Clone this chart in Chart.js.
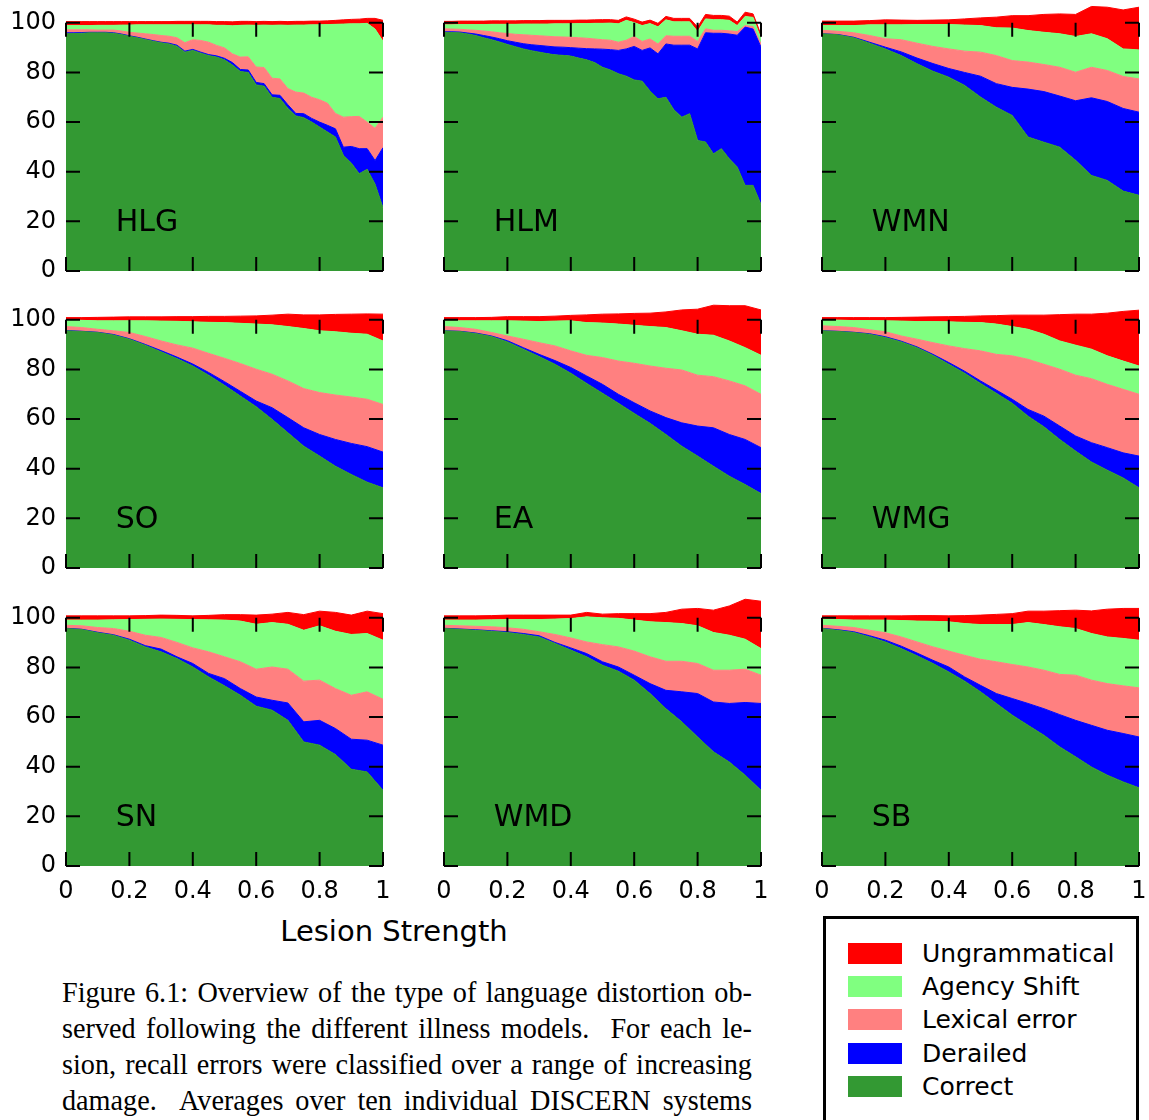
<!DOCTYPE html>
<html>
<head>
<meta charset="utf-8">
<script src="https://cdn.jsdelivr.net/npm/chart.js@4.4.1/dist/chart.umd.min.js"></script>
<style>
  body { margin: 0; background: #fff; }
  #page { position: relative; width: 1149px; height: 1120px; overflow: hidden; font-family: "DejaVu Sans", sans-serif; color: #000; }
  .panel { position: absolute; }
  #xlabel { position: absolute; left: 194px; top: 913px; width: 400px; text-align: center; font-size: 29px; line-height: 36px; white-space: nowrap; }
  #legend { position: absolute; left: 823px; top: 916px; width: 316px; height: 230px; border: 3px solid #000; box-sizing: border-box; }
  .item { position: absolute; left: 22px; height: 21px; }
  .swatch { position: absolute; left: 0; top: 0; width: 54px; height: 21px; }
  .item span { position: absolute; left: 74px; top: -6px; font-size: 25px; line-height: 33px; white-space: nowrap; }
  #caption { position: absolute; left: 62px; top: 974px; width: 734px; transform: scaleX(0.94); transform-origin: 0 0;
             font-family: "Liberation Serif", "Times New Roman", serif; font-size: 30px; line-height: 36px; }
  #caption div { text-align: justify; text-align-last: justify; white-space: nowrap; }
</style>
</head>
<body>
<div id="page">
  <div id="xlabel">Lesion Strength</div>
  <div id="legend"></div>
  <div id="caption">
    <div>Figure 6.1: Overview of the type of language distortion ob-</div>
    <div>served following the different illness models.&nbsp; For each le-</div>
    <div>sion, recall errors were classified over a range of increasing</div>
    <div>damage.&nbsp; Averages over ten individual DISCERN systems</div>
  </div>
</div>
<script>
// lesion strength steps
const lesion41 = [0, 0.025, 0.05, 0.075, 0.1, 0.125, 0.15, 0.175, 0.2, 0.225, 0.25, 0.275, 0.3, 0.325, 0.35, 0.375, 0.4, 0.425, 0.45, 0.475, 0.5,
                  0.525, 0.55, 0.575, 0.6, 0.625, 0.65, 0.675, 0.7, 0.725, 0.75, 0.775, 0.8, 0.825, 0.85, 0.875, 0.9, 0.925, 0.95, 0.975, 1];
const lesion21 = [0, 0.05, 0.1, 0.15, 0.2, 0.25, 0.3, 0.35, 0.4, 0.45, 0.5, 0.55, 0.6, 0.65, 0.7, 0.75, 0.8, 0.85, 0.9, 0.95, 1];

const xTicks = [0, 0.2, 0.4, 0.6, 0.8, 1];
const xTickLabels = ['0', '0.2', '0.4', '0.6', '0.8', '1'];
const yTicks = [0, 20, 40, 60, 80, 100];
const yTickLabels = ['0', '20', '40', '60', '80', '100'];

// bottom to top of each stack
const categories = ['Correct', 'Derailed', 'Lexical error', 'Agency Shift', 'Ungrammatical'];

// HLG
const hlgCorrect = [95.6, 95.7, 95.8, 96.0, 96.0, 96.0, 95.8, 95.3, 94.6, 94.0, 93.3, 92.6, 92.0, 91.5, 90.6, 88.2, 88.9, 87.8, 86.8, 86.2, 85.1,
                    83.0, 80.4, 80.0, 75.0, 74.5, 70.0, 69.5, 65.5, 62.5, 61.8, 60.0, 58.0, 56.0, 54.0, 46.6, 43.5, 39.2, 41.0, 35.0, 25.5];
const hlgDerailed = [0.4, 0.3, 0.3, 0.2, 0.2, 0.2, 0.2, 0.2, 0.2, 0.2, 0.2, 0.2, 0.2, 0.3, 0.4, 0.4, 0.4, 0.4, 0.4, 0.5, 0.6,
                     1.0, 0.8, 1.0, 1.0, 1.0, 1.0, 1.3, 1.5, 1.0, 1.6, 1.5, 2.0, 2.7, 3.3, 3.3, 6.7, 10.1, 8.3, 9.5, 24.2];
const hlgLexical = [1.2, 1.2, 1.1, 1.0, 0.9, 0.9, 1.1, 1.2, 1.4, 1.7, 2.1, 2.5, 2.7, 2.8, 3.0, 3.4, 3.9, 4.7, 5.0, 4.2, 4.2,
                    3.5, 5.0, 5.3, 6.2, 6.5, 6.7, 6.6, 6.5, 8.6, 8.3, 8.5, 9.0, 8.9, 6.2, 12.1, 12.0, 13.0, 10.7, 13.0, 12.3];
const hlgAgency = [1.7, 1.7, 1.7, 1.7, 1.9, 1.9, 1.9, 2.4, 2.9, 3.3, 3.6, 3.9, 4.3, 4.6, 5.2, 7.2, 6.0, 6.3, 7.0, 8.1, 9.1,
                   11.3, 12.8, 12.8, 16.8, 17.1, 21.3, 21.7, 25.5, 27.0, 27.4, 29.2, 30.2, 31.7, 35.9, 37.5, 37.4, 37.3, 39.8, 40.0, 30.6];
const hlgUngram = [1.6, 1.6, 1.6, 1.6, 1.5, 1.5, 1.5, 1.4, 1.4, 1.3, 1.3, 1.3, 1.3, 1.3, 1.4, 1.4, 1.4, 1.4, 1.4, 1.5, 1.5,
                   1.6, 1.6, 1.5, 1.5, 1.5, 1.5, 1.5, 1.5, 1.5, 1.5, 1.5, 1.5, 1.5, 1.6, 1.7, 1.8, 1.9, 2.0, 4.3, 8.4];

// HLM
const hlmCorrect = [96.2, 96.1, 96.0, 95.5, 94.9, 94.0, 93.2, 92.3, 91.3, 90.4, 89.5, 88.8, 88.2, 87.6, 87.1, 86.9, 86.6, 85.8, 85.1, 84.0, 82.1,
                    81.0, 79.5, 78.5, 77.0, 76.5, 72.5, 69.4, 70.0, 65.0, 62.0, 63.4, 52.6, 52.0, 47.2, 49.3, 45.2, 41.9, 34.5, 34.5, 26.8];
const hlmDerailed = [0.2, 0.3, 0.3, 0.4, 0.6, 0.9, 1.1, 1.3, 1.5, 1.8, 2.1, 2.4, 2.7, 3.0, 3.2, 3.3, 3.4, 4.0, 4.5, 5.5, 7.3,
                     8.2, 9.4, 11.0, 13.5, 12.4, 17.4, 18.1, 21.5, 26.0, 29.0, 27.6, 36.9, 44.0, 48.6, 46.5, 50.3, 53.1, 63.8, 63.0, 63.4];
const hlmLexical = [1.2, 1.1, 1.1, 1.3, 1.5, 1.8, 2.1, 2.4, 2.9, 3.2, 3.6, 3.8, 3.9, 4.0, 4.1, 4.1, 4.2, 4.2, 4.2, 4.0, 3.8,
                    3.8, 3.3, 3.5, 4.0, 3.6, 3.6, 4.0, 3.3, 3.6, 3.6, 3.6, 3.0, 1.6, 1.2, 1.2, 1.3, 1.5, 0.6, 1.0, 1.3];
const hlmAgency = [1.6, 1.7, 1.9, 2.1, 2.3, 2.6, 3.0, 3.4, 3.7, 4.0, 4.3, 4.5, 4.7, 4.9, 5.2, 5.3, 5.4, 5.7, 5.9, 6.3, 6.6,
                   6.9, 7.4, 8.0, 5.6, 6.4, 6.2, 6.9, 6.4, 5.8, 5.8, 5.8, 4.0, 4.0, 4.3, 4.3, 4.2, 2.4, 3.7, 3.7, 2.1];
const hlmUngram = [1.4, 1.4, 1.4, 1.4, 1.4, 1.4, 1.4, 1.4, 1.4, 1.4, 1.4, 1.4, 1.4, 1.5, 1.4, 1.4, 1.4, 1.4, 1.4, 1.4, 1.5,
                   1.4, 1.4, 1.4, 1.4, 1.4, 1.4, 1.4, 1.4, 1.4, 1.4, 1.4, 1.8, 1.8, 1.7, 1.7, 1.7, 1.4, 1.7, 1.4, 1.6];

// WMN
const wmnCorrect = [95.6, 95.2, 94.0, 91.8, 89.5, 86.8, 83.5, 80.5, 78.1, 74.8, 70.1, 66.0, 62.7, 54.0, 51.9, 49.9, 44.6, 38.5, 36.5, 32.2, 30.5];
const wmnDerailed = [0.0, 0.1, 0.2, 0.4, 0.7, 1.5, 2.3, 3.1, 3.5, 5.2, 8.4, 9.5, 11.3, 19.3, 20.4, 20.6, 24.0, 31.3, 31.8, 33.3, 33.5];
const wmnLexical = [1.4, 1.3, 1.8, 2.7, 3.4, 4.9, 6.0, 6.9, 7.9, 8.6, 9.7, 11.3, 10.8, 10.9, 10.9, 11.6, 11.5, 12.3, 12.5, 12.9, 13.4];
const wmnAgency = [1.9, 2.3, 2.9, 4.3, 5.6, 6.0, 7.5, 8.8, 9.8, 10.5, 10.7, 11.2, 13.1, 12.7, 13.0, 13.5, 14.4, 13.5, 12.8, 11.1, 11.7];
const wmnUngram = [1.8, 1.8, 1.8, 1.7, 2.0, 1.9, 1.7, 1.8, 1.9, 2.5, 3.1, 4.3, 5.0, 6.0, 7.2, 8.0, 8.9, 11.0, 12.7, 15.7, 17.2];

// SO
const soCorrect = [95.6, 95.3, 94.9, 93.9, 92.2, 89.8, 87.1, 84.4, 81.4, 77.7, 73.6, 69.3, 65.0, 59.9, 54.5, 49.1, 45.1, 41.0, 37.7, 34.6, 32.3];
const soDerailed = [0.1, 0.1, 0.1, 0.2, 0.2, 0.3, 0.5, 0.6, 0.8, 1.1, 1.5, 1.9, 2.3, 4.7, 6.1, 7.4, 8.7, 10.8, 12.5, 14.3, 14.4];
const soLexical = [1.6, 1.5, 1.2, 1.5, 2.5, 3.2, 3.9, 4.9, 6.4, 7.7, 9.4, 11.2, 12.8, 13.5, 14.8, 15.8, 16.9, 17.9, 18.7, 19.1, 19.2];
const soAgency = [2.7, 2.9, 3.4, 4.0, 4.7, 6.3, 8.0, 9.5, 10.6, 12.5, 14.4, 16.2, 18.2, 19.9, 21.9, 24.2, 24.9, 25.5, 25.7, 26.2, 25.6];
const soUngram = [0.9, 1.1, 1.4, 1.5, 1.6, 1.6, 1.7, 1.9, 2.1, 2.4, 2.5, 2.9, 3.3, 3.9, 5.0, 5.5, 6.4, 7.0, 7.7, 8.2, 10.8];

// EA
const eaCorrect = [95.6, 95.3, 94.5, 93.3, 91.1, 88.2, 85.2, 82.1, 78.5, 74.4, 70.4, 66.4, 62.3, 58.3, 53.8, 49.1, 45.1, 41.0, 37.0, 33.6, 30.0];
const eaDerailed = [0.0, 0.1, 0.2, 0.2, 0.5, 0.6, 0.9, 1.5, 2.3, 3.0, 3.6, 3.6, 4.3, 5.0, 6.8, 9.4, 12.1, 15.5, 16.8, 18.2, 18.5];
const eaLexical = [1.7, 1.5, 1.5, 1.4, 1.9, 3.4, 4.7, 5.9, 6.7, 8.3, 10.8, 13.4, 15.9, 18.1, 19.9, 21.3, 20.5, 20.6, 21.6, 21.6, 21.5];
const eaAgency = [2.3, 2.7, 3.4, 4.7, 6.1, 7.3, 8.5, 10.0, 12.1, 13.2, 13.9, 14.9, 15.3, 15.9, 16.4, 15.8, 16.5, 16.7, 16.1, 15.4, 15.7];
const eaUngram = [1.3, 1.3, 1.3, 1.4, 1.7, 1.8, 2.0, 2.0, 2.2, 3.1, 3.6, 4.1, 4.8, 5.4, 6.3, 8.4, 10.1, 12.1, 14.2, 16.9, 18.3];

// WMG
const wmgCorrect = [95.6, 95.3, 94.9, 94.2, 92.9, 91.1, 88.8, 85.7, 82.1, 78.5, 74.4, 70.4, 66.4, 61.2, 56.9, 51.8, 47.1, 42.7, 39.4, 36.3, 32.3];
const wmgDerailed = [0.0, 0.1, 0.1, 0.2, 0.3, 0.3, 0.3, 0.4, 0.7, 0.8, 1.0, 1.3, 1.6, 2.7, 4.3, 5.4, 6.1, 7.8, 9.1, 10.1, 12.8];
const wmgLexical = [2.0, 1.9, 1.9, 1.6, 2.0, 2.1, 3.1, 4.7, 6.7, 9.1, 12.1, 14.4, 17.5, 20.2, 20.9, 22.9, 24.5, 25.8, 25.5, 25.6, 24.9];
const wmgAgency = [2.4, 2.6, 2.8, 3.7, 4.4, 6.0, 7.1, 8.5, 9.7, 10.6, 11.4, 12.2, 11.8, 12.1, 12.1, 11.4, 12.1, 11.9, 11.5, 11.4, 11.4];
const wmgUngram = [0.9, 1.0, 1.2, 1.2, 1.3, 1.5, 1.8, 1.9, 2.1, 2.4, 2.7, 3.4, 4.6, 5.7, 7.7, 10.6, 12.5, 14.1, 17.2, 20.0, 22.5];

// SN
const snCorrect = [95.7, 95.3, 94.0, 93.0, 91.0, 88.3, 86.3, 83.6, 80.2, 76.2, 72.6, 68.8, 64.4, 62.8, 58.7, 50.0, 48.7, 44.9, 39.0, 37.9, 30.5];
const snDerailed = [0.1, 0.1, 0.2, 0.2, 0.4, 0.5, 1.1, 0.7, 1.4, 1.4, 2.9, 2.7, 3.7, 4.0, 7.0, 8.1, 10.0, 10.5, 12.1, 12.8, 18.2];
const snLexical = [1.2, 1.4, 1.9, 2.5, 3.2, 4.2, 4.7, 5.8, 6.3, 8.7, 8.8, 10.8, 11.2, 13.4, 13.6, 16.4, 16.2, 16.1, 17.7, 19.5, 18.5];
const snAgency = [2.1, 2.3, 3.0, 3.5, 4.7, 6.4, 7.4, 9.3, 11.4, 12.9, 14.8, 16.4, 18.1, 17.9, 18.1, 20.5, 21.9, 23.1, 24.5, 23.5, 23.8];
const snUngram = [1.7, 1.7, 1.7, 1.6, 1.5, 1.5, 1.6, 1.6, 1.5, 1.8, 2.2, 2.6, 3.7, 3.4, 4.8, 6.3, 5.9, 7.6, 7.8, 9.0, 10.7];

// WMD
const wmdCorrect = [95.7, 95.4, 95.0, 94.6, 94.1, 93.3, 92.3, 89.7, 87.0, 84.3, 80.9, 78.5, 74.9, 69.5, 63.4, 58.1, 52.0, 46.0, 41.9, 36.6, 30.5];
const wmdDerailed = [0.1, 0.1, 0.2, 0.2, 0.3, 0.4, 0.5, 0.4, 0.9, 1.3, 1.4, 1.7, 2.0, 4.0, 7.4, 12.1, 17.5, 20.1, 23.6, 29.3, 35.0];
const wmdLexical = [1.2, 1.3, 1.4, 1.6, 1.6, 1.7, 1.6, 3.2, 4.0, 4.7, 6.9, 8.1, 9.7, 10.8, 11.7, 12.3, 12.1, 12.8, 13.4, 13.4, 11.4];
const wmdAgency = [2.1, 2.3, 2.5, 2.8, 3.3, 3.9, 4.9, 6.2, 7.8, 10.1, 10.8, 11.5, 12.5, 14.1, 15.6, 15.2, 15.2, 15.2, 14.1, 12.1, 10.7];
const wmdUngram = [1.7, 1.7, 1.7, 1.7, 1.8, 1.8, 1.8, 1.6, 1.4, 1.8, 1.5, 1.9, 2.6, 3.3, 4.1, 5.8, 7.0, 9.0, 11.8, 16.1, 19.1];

// SB
const sbCorrect = [95.7, 95.0, 94.1, 92.3, 90.3, 87.6, 84.7, 81.6, 78.2, 74.5, 70.2, 65.5, 60.8, 56.7, 52.7, 48.0, 44.0, 39.9, 36.6, 33.9, 31.5];
const sbDerailed = [0.1, 0.2, 0.3, 0.5, 0.7, 1.0, 1.1, 1.3, 2.0, 1.7, 2.6, 4.0, 6.7, 8.8, 10.7, 13.0, 14.7, 16.8, 18.1, 19.5, 20.5];
const sbLexical = [1.2, 1.4, 1.7, 2.2, 3.0, 3.7, 4.5, 5.4, 6.4, 8.7, 10.5, 12.8, 13.7, 14.7, 15.5, 16.2, 18.2, 18.2, 18.8, 19.2, 19.8];
const sbAgency = [2.5, 2.7, 3.0, 4.1, 5.1, 6.6, 8.4, 10.3, 11.8, 12.8, 14.0, 15.0, 16.1, 17.9, 18.4, 19.2, 18.8, 18.8, 18.8, 19.1, 19.2];
const sbUngram = [1.3, 1.5, 1.7, 1.7, 1.7, 1.9, 2.2, 2.3, 2.4, 3.2, 3.8, 4.1, 4.4, 4.6, 5.4, 6.5, 7.4, 9.1, 11.2, 12.1, 12.8];

const panels = [
    { name: 'HLG', x: lesion41, series: [hlgCorrect, hlgDerailed, hlgLexical, hlgAgency, hlgUngram] },
    { name: 'HLM', x: lesion41, series: [hlmCorrect, hlmDerailed, hlmLexical, hlmAgency, hlmUngram] },
    { name: 'WMN', x: lesion21, series: [wmnCorrect, wmnDerailed, wmnLexical, wmnAgency, wmnUngram] },
    { name: 'SO', x: lesion21, series: [soCorrect, soDerailed, soLexical, soAgency, soUngram] },
    { name: 'EA', x: lesion21, series: [eaCorrect, eaDerailed, eaLexical, eaAgency, eaUngram] },
    { name: 'WMG', x: lesion21, series: [wmgCorrect, wmgDerailed, wmgLexical, wmgAgency, wmgUngram] },
    { name: 'SN', x: lesion21, series: [snCorrect, snDerailed, snLexical, snAgency, snUngram] },
    { name: 'WMD', x: lesion21, series: [wmdCorrect, wmdDerailed, wmdLexical, wmdAgency, wmdUngram] },
    { name: 'SB', x: lesion21, series: [sbCorrect, sbDerailed, sbLexical, sbAgency, sbUngram] }
];

const colors = ['#339933', '#0000ff', '#ff8080', '#80ff80', '#ff0000'];
const FONT = '"DejaVu Sans", sans-serif';

// inward tick marks on all four sides + panel name
const frameTicks = {
    id: 'frameTicks',
    afterDatasetsDraw(chart, args, opts) {
        const { ctx, scales: { x, y } } = chart;
        const left = x.getPixelForValue(0), right = x.getPixelForValue(1);
        const bottom = y.getPixelForValue(0), top = y.getPixelForValue(100);
        ctx.save();
        ctx.strokeStyle = '#000';
        ctx.lineWidth = 2;
        ctx.beginPath();
        yTicks.forEach(v => {
            const py = y.getPixelForValue(v);
            ctx.moveTo(left, py); ctx.lineTo(left + 14, py);
            ctx.moveTo(right, py); ctx.lineTo(right - 14, py);
        });
        xTicks.forEach(v => {
            const px = x.getPixelForValue(v);
            ctx.moveTo(px, bottom); ctx.lineTo(px, bottom - 14);
            ctx.moveTo(px, top); ctx.lineTo(px, top + 14);
        });
        ctx.stroke();
        ctx.fillStyle = '#000';
        ctx.font = '30px ' + FONT;
        ctx.textBaseline = 'middle';
        ctx.fillText(opts.name, x.getPixelForValue(0.157), y.getPixelForValue(19.2));
        ctx.restore();
    }
};

// keep every plot area the same size, whatever labels it shows
const fixedBox = (size) => (s) => {
    if (s.isHorizontal()) s.height = size; else s.width = size;
    s.paddingLeft = 0; s.paddingRight = 0; s.paddingTop = 0; s.paddingBottom = 0;
};

const colLeft = [0, 378, 756];
const rowTop = [3, 300, 598];
const page = document.getElementById('page');

panels.forEach((p, k) => {
    const r = Math.floor(k / 3), c = k % 3;
    const wrap = document.createElement('div');
    wrap.className = 'panel';
    wrap.style.left = colLeft[c] + 'px';
    wrap.style.top = rowTop[r] + 'px';
    const canvas = document.createElement('canvas');
    canvas.width = 397;
    canvas.height = 316;
    wrap.appendChild(canvas);
    page.appendChild(wrap);

    const showX = r === 2, showY = c === 0;
    const datasets = p.series.map((vals, i) => ({
        label: categories[i],
        data: p.x.map((xv, j) => ({ x: xv, y: vals[j] })),
        backgroundColor: colors[i],
        borderColor: colors[i],
        borderWidth: 1,
        fill: i === 0 ? 'origin' : '-1',
        pointRadius: 0,
        tension: 0
    }));

    new Chart(canvas, {
        type: 'line',
        data: { datasets },
        options: {
            responsive: false,
            animation: false,
            layout: { padding: { right: 14 }, autoPadding: false },
            plugins: {
                legend: { display: false },
                tooltip: { enabled: false },
                frameTicks: { name: p.name }
            },
            scales: {
                x: {
                    type: 'linear', min: 0, max: 1,
                    grid: { display: false, drawTicks: false },
                    border: { display: false },
                    afterBuildTicks: s => { s.ticks = xTicks.map(v => ({ value: v })); },
                    afterFit: fixedBox(48),
                    ticks: {
                        display: showX, padding: 11, maxRotation: 0, autoSkip: false,
                        color: '#000', font: { family: FONT, size: 24 },
                        callback: (v, i) => xTickLabels[i]
                    }
                },
                y: {
                    type: 'linear', min: 0, max: 108, stacked: true,
                    grid: { display: false, drawTicks: false },
                    border: { display: false },
                    afterBuildTicks: s => { s.ticks = yTicks.map(v => ({ value: v })); },
                    afterFit: fixedBox(66),
                    ticks: {
                        display: showY, padding: 10, autoSkip: false,
                        color: '#000', font: { family: FONT, size: 24 },
                        callback: (v, i) => yTickLabels[i]
                    }
                }
            }
        },
        plugins: [frameTicks]
    });
});

// legend box, top entry = top of the stack
const legend = document.getElementById('legend');
categories.slice().reverse().forEach((name, i) => {
    const item = document.createElement('div');
    item.className = 'item';
    item.style.top = (24 + i * 33.2) + 'px';
    const sw = document.createElement('div');
    sw.className = 'swatch';
    sw.style.background = colors[categories.length - 1 - i];
    const label = document.createElement('span');
    label.textContent = name;
    item.appendChild(sw);
    item.appendChild(label);
    legend.appendChild(item);
});
</script>
</body>
</html>
